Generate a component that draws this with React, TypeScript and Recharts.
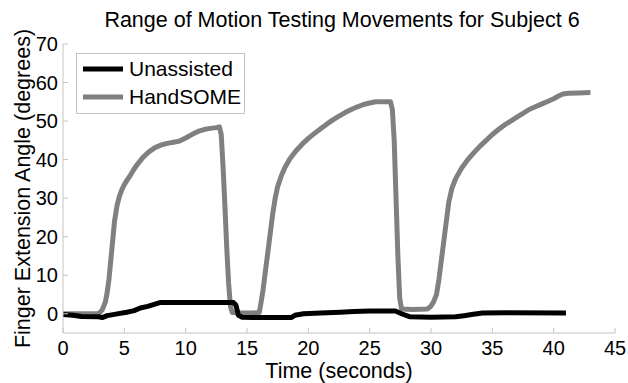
import React from 'react';
import { LineChart, Line, XAxis, YAxis, Legend, Label } from 'recharts';

const titleText = 'Range of Motion Testing Movements for Subject 6';
const xLabelText = 'Time (seconds)';
const yLabelText = 'Finger Extension Angle (degrees)';
const seriesNames = ['Unassisted', 'HandSOME'];
const xTicks = [0, 5, 10, 15, 20, 25, 30, 35, 40, 45];
const yTicks = [0, 10, 20, 30, 40, 50, 60, 70];

const unassistedTime = [0, 0.8, 1.5, 2.9, 3.2, 3.6, 4.3, 5.2, 5.8, 6.3, 6.9, 7.3, 7.9, 10, 12, 13.9, 14.1, 14.3, 14.6, 15.5, 17, 18.6, 18.9, 19.6, 21, 22.6, 23.7, 25, 27.1, 27.6, 28.3, 30, 32, 32.7, 33.3, 34.2, 36, 41];
const unassistedAngle = [-0.2, -0.4, -0.7, -0.8, -1.0, -0.5, -0.1, 0.4, 0.8, 1.5, 1.9, 2.3, 2.9, 2.9, 2.9, 2.9, 2.2, -0.4, -0.9, -1.0, -1.0, -1.0, -0.4, 0.0, 0.2, 0.4, 0.6, 0.7, 0.7, 0.0, -0.8, -0.9, -0.8, -0.5, -0.2, 0.2, 0.25, 0.2];

const handsomeTime = [
  0, 1, 2, 2.9, 3.2, 3.45, 3.6, 3.75, 3.9, 4.05, 4.2, 4.4, 4.6, 4.8, 5.0, 5.25, 5.5, 5.75, 6.0, 6.5, 7.0, 7.5, 8.0, 8.5, 9.0, 9.5, 10.0, 10.5, 11.0, 11.5, 12.0, 12.5, 12.75, 12.9, 13.05, 13.2, 13.35, 13.5, 13.65, 13.8,
  14.5, 15.5, 16.0, 16.15, 16.3, 16.5, 16.7, 16.9, 17.1, 17.3, 17.5, 17.8, 18.1, 18.5, 19.0, 19.5, 20.0, 20.5, 21.0, 21.5, 22.0, 22.5, 23.0, 23.5, 24.0, 24.5, 25.0, 25.5, 26.7, 26.85, 27.0, 27.15, 27.3, 27.45, 27.6,
  28.5, 29.7, 29.95, 30.2, 30.45, 30.65, 30.85, 31.05, 31.25, 31.45, 31.7, 32.0, 32.5, 33.0, 33.5, 34.0, 34.5, 35.0, 35.5, 36.0, 36.5, 37.0, 37.5, 38.0, 38.5, 39.0, 39.5, 40.0, 40.4, 40.75, 41.2, 42.0, 43.0,
];
const handsomeAngle = [
  0, 0, 0, 0, 1, 3, 5.5, 9, 14, 19, 24, 28, 30.5, 32.2, 33.5, 34.8, 36, 37.3, 38.5, 40.5, 42, 43.1, 43.8, 44.2, 44.5, 44.8, 45.6, 46.5, 47.3, 47.8, 48.1, 48.3, 48.5, 46.5, 38, 28, 17, 8, 2, 0.3,
  0.2, 0.2, 0.3, 3, 6, 11, 16, 21, 26, 30, 33, 35.8, 38, 40.2, 42.3, 44, 45.5, 46.8, 48, 49.2, 50.3, 51.3, 52.2, 53, 53.7, 54.3, 54.7, 55, 55, 53, 45, 30, 15, 4, 1.2,
  1.1, 1.2, 1.8, 3, 5, 9, 14, 19, 24, 29, 32.5, 35, 37.8, 40, 41.8, 43.5, 45, 46.5, 47.8, 49, 50, 51, 52, 53, 53.7, 54.4, 55.1, 55.8, 56.5, 57, 57.2, 57.3, 57.4,
];

const unassistedData = unassistedTime.map((t, i) => ({ t, v: unassistedAngle[i] }));
const handsomeData = handsomeTime.map((t, i) => ({ t, v: handsomeAngle[i] }));

const FONT = '"Liberation Sans", Arial, sans-serif';
const BOX = '#c4c4c4';
const TL = 5;

const XTickBottom = (p: any) => (
  <g>
    <line x1={p.x} x2={p.x} y1={p.y} y2={p.y - TL} stroke={BOX} strokeWidth={1} />
    <text x={p.x} y={p.y + 8} dy="0.71em" textAnchor="middle" fontSize={20} fontFamily={FONT} fill="#000">
      {p.payload.value}
    </text>
  </g>
);
const XTickTop = (p: any) => (
  <line x1={p.x} x2={p.x} y1={p.y} y2={p.y + TL} stroke={BOX} strokeWidth={1} />
);
const YTickLeft = (p: any) => (
  <g>
    <line x1={p.x} x2={p.x + TL} y1={p.y} y2={p.y} stroke={BOX} strokeWidth={1} />
    <text x={p.x - 5} y={p.y} dy="0.355em" textAnchor="end" fontSize={20} fontFamily={FONT} fill="#000">
      {p.payload.value}
    </text>
  </g>
);
const YTickRight = (p: any) => (
  <line x1={p.x} x2={p.x - TL} y1={p.y} y2={p.y} stroke={BOX} strokeWidth={1} />
);

const renderLegend = (props: any) => {
  const items = [...(props.payload || [])].sort(
    (a: any, b: any) => seriesNames.indexOf(a.value) - seriesNames.indexOf(b.value)
  );
  return (
    <svg width={170} height={62} style={{ display: 'block' }}>
      <rect x={0.5} y={0.5} width={168} height={60} fill="#fff" stroke={BOX} strokeWidth={1} />
      {items.map((it: any, i: number) => {
        const cy = 16 + i * 28;
        return (
          <g key={it.value}>
            <line x1={7} x2={47} y1={cy} y2={cy} stroke={it.color} strokeWidth={5} />
            <text x={53} y={cy} dy="0.355em" fontSize={21} fontFamily={FONT} fill="#000">
              {it.value}
            </text>
          </g>
        );
      })}
    </svg>
  );
};

export default function App() {
  return (
    <div style={{ position: 'absolute', left: 0, top: 0, width: 628, height: 383, background: '#fff' }}>
      <LineChart width={628} height={383} margin={{ top: 44, right: 13, bottom: 0, left: 0 }}>
        <XAxis
          xAxisId="b"
          type="number"
          dataKey="t"
          domain={[0, 45]}
          ticks={xTicks}
          allowDataOverflow
          height={50}
          tickSize={0}
          tickMargin={0}
          tickLine={false}
          axisLine={{ stroke: BOX }}
          tick={<XTickBottom />}
          interval={0}
        >
          <Label value={xLabelText} position="insideBottom" offset={5} fontSize={21.5} fill="#000" style={{ fontFamily: FONT }} />
        </XAxis>
        <XAxis
          xAxisId="t"
          orientation="top"
          type="number"
          dataKey="t"
          domain={[0, 45]}
          ticks={xTicks}
          allowDataOverflow
          height={0}
          tickSize={0}
          tickMargin={0}
          tickLine={false}
          axisLine={{ stroke: BOX }}
          tick={<XTickTop />}
          interval={0}
        />
        <YAxis
          yAxisId="l"
          type="number"
          domain={[-5, 70]}
          ticks={yTicks}
          allowDataOverflow
          width={63}
          tickSize={0}
          tickMargin={0}
          tickLine={false}
          axisLine={{ stroke: BOX }}
          tick={<YTickLeft />}
          interval={0}
        >
          <Label value={yLabelText} angle={-90} position="insideLeft" offset={22} fontSize={21.5} fill="#000" style={{ fontFamily: FONT, textAnchor: 'middle' }} />
        </YAxis>
        <YAxis
          yAxisId="r"
          orientation="right"
          type="number"
          domain={[-5, 70]}
          ticks={yTicks}
          allowDataOverflow
          width={0}
          tickSize={0}
          tickMargin={0}
          tickLine={false}
          axisLine={{ stroke: BOX }}
          tick={<YTickRight />}
          interval={0}
        />
        <Legend
          layout="vertical"
          align="center"
          verticalAlign="middle"
          content={renderLegend}
          wrapperStyle={{ left: 76, top: 53, width: 170, height: 62 }}
        />
        <Line
          xAxisId="b"
          yAxisId="l"
          data={handsomeData}
          dataKey="v"
          name={seriesNames[1]}
          type="linear"
          stroke="#808080"
          strokeWidth={5}
          strokeLinejoin="round"
          dot={false}
          activeDot={false}
          isAnimationActive={false}
        />
        <Line
          xAxisId="b"
          yAxisId="l"
          data={unassistedData}
          dataKey="v"
          name={seriesNames[0]}
          type="linear"
          stroke="#000000"
          strokeWidth={5}
          strokeLinejoin="round"
          dot={false}
          activeDot={false}
          isAnimationActive={false}
        />
      </LineChart>
      <svg width={628} height={383} style={{ position: 'absolute', left: 0, top: 0, pointerEvents: 'none' }}>
        <text x={342} y={27} textAnchor="middle" fontSize={21.5} fontFamily={FONT} fill="#000">
          {titleText}
        </text>
      </svg>
    </div>
  );
}
